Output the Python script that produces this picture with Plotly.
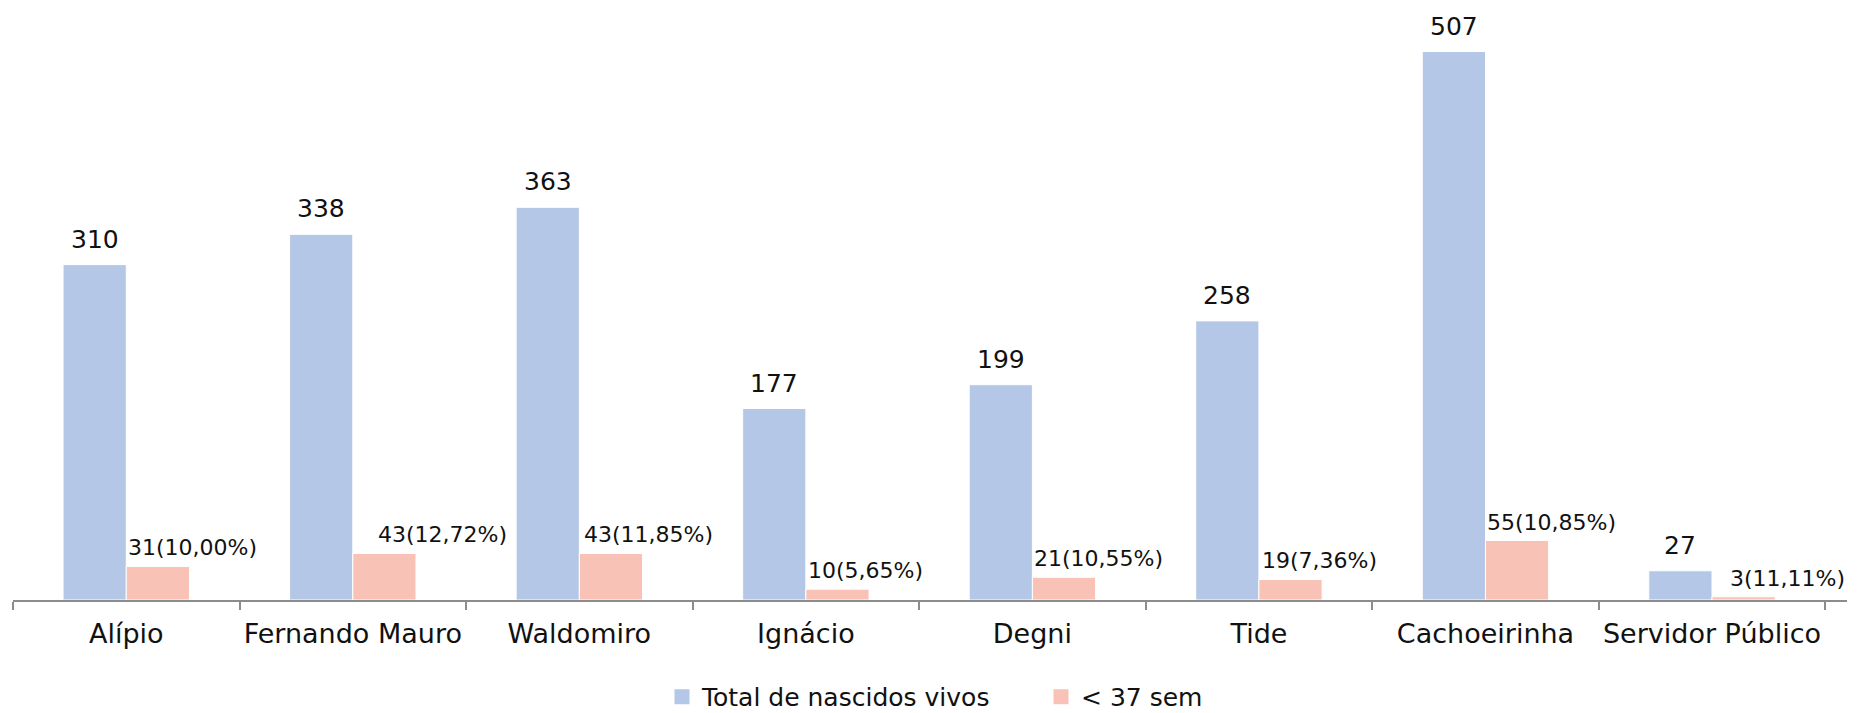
import plotly.graph_objects as go

# Births per health unit and preterm births (< 37 weeks)
units = ["Alípio", "Fernando Mauro", "Waldomiro", "Ignácio", "Degni",
         "Tide", "Cachoeirinha", "Servidor Público"]
total_births = [310, 338, 363, 177, 199, 258, 507, 27]
preterm_births = [31, 43, 43, 10, 21, 19, 55, 3]
series_names = ["Total de nascidos vivos", "< 37 sem"]

# horizontal nudge (px) of each preterm label from its bar's left edge
preterm_label_shift = [0, 23, 3, 0, 0, 1, 0, 16]

BLUE = "#B4C7E7"
PINK = "#F9C2B6"
FONT = "DejaVu Sans"
BARGAP = 0.442
W, H = 1863, 713

fig = go.Figure()
legend_ids = ["legend", "legend2"]
for name, values, color, lg in zip(series_names, [total_births, preterm_births],
                                   [BLUE, PINK], legend_ids):
    fig.add_trace(go.Bar(
        name=name, x=units, y=values, showlegend=False,
        marker=dict(color=color, line=dict(color="white", width=1)),
    ))
    # square legend key
    fig.add_trace(go.Scatter(
        name=name, x=[None], y=[None], mode="markers", legend=lg,
        marker=dict(symbol="square", size=15, color=color),
    ))

annotations = []
blue_offset = -(1 - BARGAP) / 4  # centre of the first bar in each group
for i, (tot, pre) in enumerate(zip(total_births, preterm_births)):
    annotations.append(dict(
        x=i + blue_offset, y=tot, xref="x", yref="y", text=str(tot),
        showarrow=False, xanchor="center", yanchor="bottom", yshift=9,
        font=dict(family=FONT, size=25, color="#111111"),
    ))
    pct = f"{pre / tot * 100:.2f}".replace(".", ",")
    annotations.append(dict(
        x=i, y=pre, xref="x", yref="y", text=f"{pre}({pct}%)",
        showarrow=False, xanchor="left", yanchor="bottom",
        xshift=preterm_label_shift[i], yshift=4,
        font=dict(family=FONT, size=22, color="#111111"),
    ))

legend_style = dict(
    orientation="h", xref="container", xanchor="left",
    yref="paper", y=-0.163, yanchor="middle",
    font=dict(family=FONT, size=25, color="#111111"),
    bgcolor="rgba(0,0,0,0)", borderwidth=0,
)

fig.update_layout(
    width=W, height=H,
    margin=dict(l=13, r=16, t=5, b=113, autoexpand=False),
    paper_bgcolor="white", plot_bgcolor="white",
    barmode="group", bargap=BARGAP, bargroupgap=0,
    font=dict(family=FONT, color="#111111"),
    showlegend=True,
    legend=dict(x=662 / W, **legend_style),
    legend2=dict(x=1041 / W, **legend_style),
    annotations=annotations,
)
fig.update_xaxes(
    showline=True, linecolor="#8c8c8c", linewidth=1.5,
    ticks="outside", ticklen=8, tickcolor="#8c8c8c", tickwidth=1.5,
    tickson="boundaries", showgrid=False, tickangle=0, automargin=False,
    tickfont=dict(family=FONT, size=27, color="#111111"),
    ticklabelstandoff=9,
)
fig.update_yaxes(visible=False, range=[0, 550])

fig.write_html("out.html")
